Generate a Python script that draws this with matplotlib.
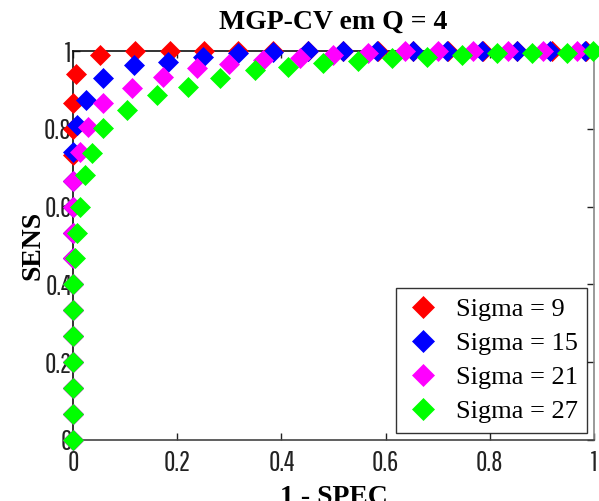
import matplotlib
matplotlib.use("Agg")
import matplotlib.pyplot as plt
from matplotlib import font_manager as fm

# ---- data ----
labels = ["Sigma = 9", "Sigma = 15", "Sigma = 21", "Sigma = 27"]
colors = ["#ff0000", "#0000ff", "#ff00ff", "#00ff00"]

s9_x = [0, 0, 0, 0, 0, 0, 0, 0, 0, 0, 0, 0, 0, 0, 0.006,
        0.052, 0.119, 0.186, 0.251, 0.317, 0.384, 0.451, 0.518, 0.585, 0.652, 0.719, 0.786, 0.853, 0.920, 0.985]
s9_y = [0, 0.067, 0.133, 0.2, 0.267, 0.333, 0.4, 0.467, 0.533, 0.6, 0.667, 0.733, 0.8, 0.867, 0.94,
        0.99, 1, 1, 1, 1, 1, 1, 1, 1, 1, 1, 1, 1, 1, 1]

s15_x = [0, 0, 0, 0, 0, 0, 0, 0, 0, 0, 0, 0, 0.008, 0.025, 0.058,
         0.117, 0.182, 0.25, 0.317, 0.384, 0.451, 0.518, 0.584, 0.653, 0.718, 0.785, 0.852, 0.916, 0.983]
s15_y = [0, 0.067, 0.133, 0.2, 0.267, 0.333, 0.4, 0.467, 0.533, 0.6, 0.667, 0.74, 0.81, 0.874, 0.93,
         0.964, 0.972, 0.985, 0.995, 0.997, 1, 1, 1, 1, 1, 1, 1, 1, 1]

s21_x = [0, 0, 0, 0, 0, 0, 0, 0, 0, 0, 0, 0.013, 0.029, 0.058, 0.113, 0.173, 0.238, 0.30,
         0.365, 0.436, 0.499, 0.566, 0.637, 0.70, 0.768, 0.835, 0.902, 0.967]
s21_y = [0, 0.067, 0.133, 0.2, 0.267, 0.333, 0.4, 0.467, 0.533, 0.6, 0.667, 0.74, 0.805, 0.866, 0.905, 0.933, 0.956, 0.967,
         0.977, 0.982, 0.99, 0.995, 1, 1, 1, 1, 1, 1]

s27_x = [0, 0, 0, 0, 0, 0, 0, 0.004, 0.008, 0.013, 0.023, 0.036, 0.058, 0.104, 0.161, 0.221, 0.282, 0.35,
         0.413, 0.48, 0.547, 0.612, 0.679, 0.747, 0.814, 0.881, 0.948, 0.998]
s27_y = [0, 0.067, 0.133, 0.2, 0.267, 0.333, 0.4, 0.467, 0.533, 0.6, 0.68, 0.738, 0.802, 0.848, 0.887, 0.907, 0.93, 0.951,
         0.959, 0.969, 0.974, 0.982, 0.985, 0.99, 0.995, 0.995, 0.995, 1]

ticks = [0, 0.2, 0.4, 0.6, 0.8, 1]
tick_labels = ["0", "0.2", "0.4", "0.6", "0.8", "1"]

# ---- fonts ----
names = {f.name for f in fm.fontManager.ttflist}
narrow = "DejaVu Sans"
for cand in ["Pathway Gothic One", "Antonio", "Oswald", "Roboto Condensed",
             "Archivo Narrow", "PT Sans Narrow"]:
    if cand in names:
        narrow = cand
        break
serif = "Liberation Serif"

fig = plt.figure(figsize=(5.99, 5.01), dpi=100)
ax = fig.add_axes([0.122, 0.1218, 0.8697, 0.7764])

series = [(s9_x, s9_y), (s15_x, s15_y), (s21_x, s21_y), (s27_x, s27_y)]
for (xs, ys), c, lab in zip(series, colors, labels):
    ax.plot(xs, ys, linestyle="none", marker="D", markersize=10.5,
            markerfacecolor=c, markeredgecolor=c, markeredgewidth=0.5,
            label=lab, clip_on=False, zorder=3)

ax.set_xlim(0, 1)
ax.set_ylim(0, 1)
ax.set_xticks(ticks)
ax.set_yticks(ticks)
ax.set_xticklabels(tick_labels, fontfamily=narrow, fontsize=20)
ax.set_yticklabels(tick_labels, fontfamily=narrow, fontsize=20)
ax.tick_params(direction="in", length=5, width=1, top=True, right=True, colors="#222222")
ax.tick_params(axis="x", pad=7)
ax.tick_params(axis="y", pad=1)

for side in ["left", "top"]:
    ax.spines[side].set_color("#111111")
ax.spines["bottom"].set_color("#444444")
ax.spines["right"].set_color("#888888")
for s in ax.spines.values():
    s.set_linewidth(1.2)

ax.set_title("MGP-CV em Q = 4", fontfamily=serif, fontweight="bold", fontsize=20, pad=16)
ax.set_xlabel("1 - SPEC", fontfamily=serif, fontweight="bold", fontsize=20, labelpad=7)
ax.set_ylabel("SENS", fontfamily=serif, fontweight="bold", fontsize=20, labelpad=-1)

leg = ax.legend(loc="lower right", bbox_to_anchor=(0.987, 0.018), borderaxespad=0,
                prop={"family": serif, "size": 19}, frameon=True, fancybox=False,
                edgecolor="black", handlelength=1.3, handletextpad=0.6,
                labelspacing=0.40, borderpad=0.36, numpoints=1, markerscale=1.1)
leg.get_frame().set_linewidth(1.0)

fig.savefig("out.png", dpi=100)
